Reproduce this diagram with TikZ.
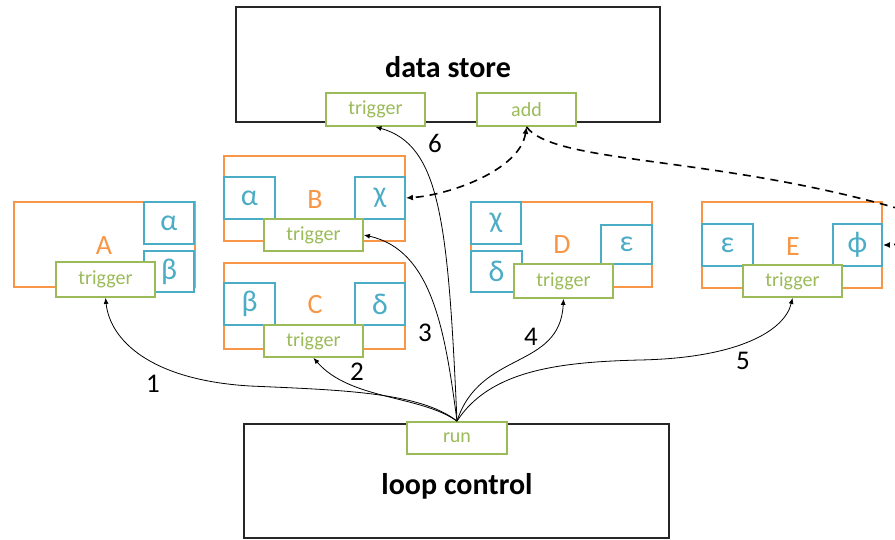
\documentclass[tikz,border=0pt]{standalone}
\usepackage{fontspec}
\setmainfont{Carlito}
\usetikzlibrary{arrows.meta}
\definecolor{orA}{HTML}{F79646}
\definecolor{blA}{HTML}{4BACC6}
\definecolor{grA}{HTML}{9BBB59}
\begin{document}
\begin{tikzpicture}[x=1pt,y=-1pt,
  frame/.style={draw=orA, line width=1.8pt, fill=white, inner sep=0pt},
  var/.style={draw=blA, line width=1.8pt, fill=white, inner sep=0pt, minimum height=42pt,
     text=blA, font=\fontsize{30}{32}\selectfont},
  port/.style={draw=grA, line width=1.8pt, fill=white, inner sep=0pt, minimum width=99pt,
     text=grA, font=\fontsize{20}{22}\selectfont},
  blk/.style={text=orA, font=\fontsize{28}{30}\selectfont, inner sep=0pt},
  big/.style={draw=black!85, line width=1.8pt, fill=white, inner sep=0pt},
  bigtext/.style={font=\fontsize{30}{32}\selectfont\bfseries, inner sep=0pt},
  num/.style={font=\fontsize{27}{29}\selectfont, inner sep=0pt},
  flow/.style={line width=0.8pt, -{Latex[length=6pt,width=5pt]}},
  dflow/.style={line width=1.6pt, dash pattern=on 8pt off 6pt, -{Latex[length=7pt,width=6pt]}}
]
\useasboundingbox (0,0) rectangle (895,540);

% data store
\node[big, minimum width=424pt, minimum height=115pt] (ds) at (448,64.5) {};
\node[bigtext] (dstext) at (448,67) {data store};
\node[port, minimum height=33pt] (dstrig) at (375.5,109.5) {trigger};
\node[port, minimum height=33pt] (dsadd) at (526.5,109.5) {add};

% loop control
\node[big, minimum width=425pt, minimum height=114pt] (lc) at (456.5,481) {};
\node[bigtext] (lctext) at (457,486) {loop control};
\node[port, minimum width=100pt, minimum height=32pt] (run) at (457,438) {run};

% A
\node[frame, minimum width=181pt, minimum height=85pt] (Af) at (104.5,244.5) {};
\node[blk] (Al) at (104,246) {A};
\node[var, minimum width=50pt] (Aa) at (169,223) {α};
\node[var, minimum width=50pt, minimum height=41pt] (Ab) at (169,271.5) {β};
\node[port, minimum height=35pt] (At) at (105.5,279.5) {trigger};

% B
\node[frame, minimum width=181pt, minimum height=85pt] (Bf) at (314.5,198.5) {};
\node[blk] (Bl) at (315,200) {B};
\node[var, minimum width=51pt] (Ba) at (249.5,198) {α};
\node[var, minimum width=50pt] (Bc) at (380,198) {χ};
\node[port, minimum height=32pt] (Bt) at (313.5,235) {trigger};

% C
\node[frame, minimum width=181pt, minimum height=86pt] (Cf) at (314.5,306) {};
\node[blk] (Cl) at (315,305) {C};
\node[var, minimum width=51pt] (Cb) at (249.5,304) {β};
\node[var, minimum width=50pt] (Cd) at (380,304) {δ};
\node[port, minimum height=32pt] (Ct) at (313.5,341) {trigger};

% D
\node[frame, minimum width=181pt, minimum height=85pt] (Df) at (561.5,244.5) {};
\node[blk] (Dl) at (562,245) {D};
\node[var, minimum width=50pt] (Dc) at (496,223) {χ};
\node[var, minimum width=51pt, minimum height=41pt] (Dd) at (496.5,271.5) {δ};
\node[var, minimum width=51pt, minimum height=39pt] (De) at (626.5,244.5) {ε};
\node[port, minimum height=34pt] (Dt) at (563.5,281) {trigger};

% E
\node[frame, minimum width=180pt, minimum height=86pt] (Ef) at (792,245) {};
\node[blk] (El) at (793,247) {E};
\node[var, minimum width=51pt] (Ee) at (727.5,245) {ε};
\node[var, minimum width=49pt] (Ep) at (857.5,245) {ϕ};
\node[port, minimum height=32pt] (Et) at (792.5,281) {trigger};

% control flows
\draw[flow] (run.north) .. controls (420,392) and (340,390) .. (250,386)
            .. controls (150,380) and (110,340) .. (At.south);
\draw[flow] (run.north) .. controls (420,395) and (350,400) .. (Ct.south);
\draw[flow] (run.north) .. controls (445,330) and (432,250) .. (Bt.east);
\draw[flow] (run.north) .. controls (448,220) and (440,145) .. (dstrig.south);
\draw[flow] (run.north) .. controls (480,350) and (560,370) .. (Dt.south);
\draw[flow] (run.north) .. controls (490,370) and (560,362) .. (640,360)
            .. controls (740,358) and (785,330) .. (Et.south);

\node[num] (n1) at (153,384) {1};
\node[num] (n2) at (357,372) {2};
\node[num] (n3) at (425,333) {3};
\node[num] (n4) at (531,337) {4};
\node[num] (n5) at (743,361) {5};
\node[num] (n6) at (435,143) {6};

% data flows
\draw[dflow, {Latex[length=7pt,width=6pt]}-{Latex[length=7pt,width=6pt]}]
   (dsadd.south) .. controls (520,170) and (450,195) .. (Bc.east);
\begin{scope}
\clip (0,0) rectangle (895,540);
\coordinate (outer) at (910,212);
\draw[dflow] (dsadd.south) .. controls (555,165) and (720,155) .. (outer)
   .. controls (925,225) and (910,245) .. (Ep.east);
\end{scope}
\end{tikzpicture}
\end{document}
